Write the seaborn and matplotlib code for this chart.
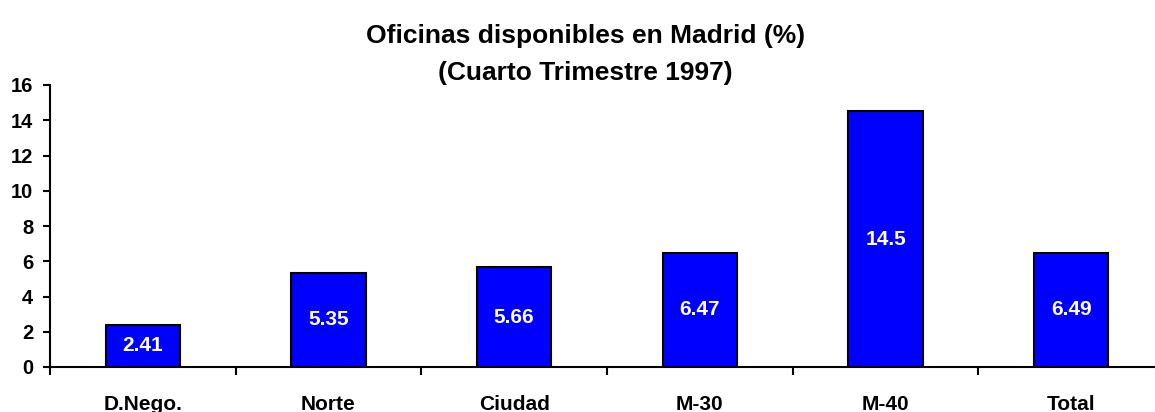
import matplotlib
matplotlib.use("Agg")
import matplotlib.pyplot as plt
import seaborn as sns
import pandas as pd

categories = ["D.Nego.", "Norte", "Ciudad", "M-30", "M-40", "Total"]
values = [2.41, 5.35, 5.66, 6.47, 14.5, 6.49]
value_labels = ["2.41", "5.35", "5.66", "6.47", "14.5", "6.49"]
yticks = [0, 2, 4, 6, 8, 10, 12, 14, 16]
title_lines = ["Oficinas disponibles en Madrid (%)", "(Cuarto Trimestre 1997)"]

sns.set_theme(style="white")
plt.rcParams['font.family'] = ['Liberation Sans', 'DejaVu Sans']
plt.rcParams['font.weight'] = 'bold'
plt.rcParams['text.color'] = 'black'
plt.rcParams['xtick.color'] = 'black'
plt.rcParams['ytick.color'] = 'black'
plt.rcParams['axes.labelcolor'] = 'black'

df = pd.DataFrame({"cat": categories, "val": values})

W, H = 1155, 412
fig = plt.figure(figsize=(W / 100, H / 100), dpi=100)
ax = fig.add_axes([50 / W, 45 / H, (1164 - 50) / W, 282 / H])

sns.barplot(data=df, x="cat", y="val", ax=ax, color="#0000FF",
            saturation=1, width=0.4, edgecolor="black", linewidth=1.5)

for i, (v, lab) in enumerate(zip(values, value_labels)):
    ax.text(i, v / 2, lab, color="white", fontsize=15, fontweight="bold",
            ha="center", va="center")

ax.set_xlim(-0.5, 5.5)
ax.set_ylim(0, 16)
ax.set_yticks(yticks)
ax.set_yticklabels([str(t) for t in yticks], fontsize=14.5, fontweight="bold")
ax.tick_params(axis="y", direction="out", length=5, width=1.5, pad=7, left=True, colors="black")

ax.set_xticks([i + 0.5 for i in range(-1, len(categories))])
ax.set_xticklabels([""] * (len(categories) + 1))
ax.tick_params(axis="x", which="major", direction="out", length=5.5, width=1.5, bottom=True, colors="black")
ax.set_xticks(range(len(categories)), minor=True)
ax.set_xticklabels(categories, minor=True, fontsize=15, fontweight="bold")
ax.tick_params(axis="x", which="minor", length=0, pad=20, colors="black")

ax.set_xlabel("")
ax.set_ylabel("")
for s in ["top", "right"]:
    ax.spines[s].set_visible(False)
for s in ["left", "bottom"]:
    ax.spines[s].set_color("black")
    ax.spines[s].set_linewidth(1.5)

fig.text(585.5 / W, 1 - 43 / H, title_lines[0], ha="center", va="baseline",
         fontsize=19, fontweight="bold", color="black")
fig.text(585.5 / W, 1 - 80 / H, title_lines[1], ha="center", va="baseline",
         fontsize=19, fontweight="bold", color="black")

fig.savefig("out.png", dpi=100)
